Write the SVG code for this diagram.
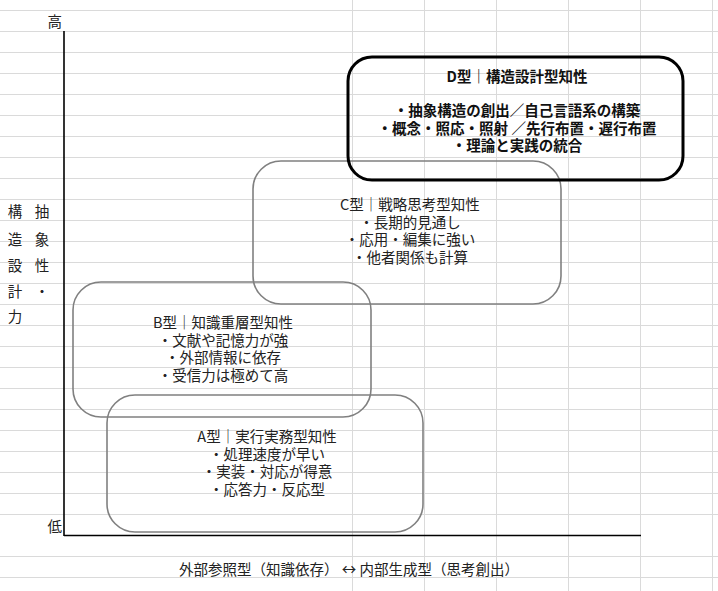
<svg xmlns="http://www.w3.org/2000/svg" width="718" height="591" viewBox="0 0 718 591">
<style>
.grid line{stroke:#dadada;stroke-width:1}
.axis{stroke:#000;stroke-width:1.6}
.box{fill:none;stroke:#808080;stroke-width:1.6}
.boxd{fill:none;stroke:#000;stroke-width:3}
text{font-family:"Noto Sans CJK JP","Noto Sans",sans-serif;fill:#222;font-size:14.5px}
.c{text-anchor:middle}
.b{font-weight:bold;fill:#111}
</style>
<rect width="718" height="591" fill="#fff"/>
<g class="grid" id="grid">
<line x1="0" y1="10.5" x2="718" y2="10.5"/>
<line x1="0" y1="31.5" x2="718" y2="31.5"/>
<line x1="0" y1="52.5" x2="718" y2="52.5"/>
<line x1="0" y1="73.5" x2="718" y2="73.5"/>
<line x1="0" y1="94.5" x2="718" y2="94.5"/>
<line x1="0" y1="115.5" x2="718" y2="115.5"/>
<line x1="0" y1="136.5" x2="718" y2="136.5"/>
<line x1="0" y1="157.5" x2="718" y2="157.5"/>
<line x1="0" y1="178.5" x2="718" y2="178.5"/>
<line x1="0" y1="199.5" x2="718" y2="199.5"/>
<line x1="0" y1="220.5" x2="718" y2="220.5"/>
<line x1="0" y1="241.5" x2="718" y2="241.5"/>
<line x1="0" y1="262.5" x2="718" y2="262.5"/>
<line x1="0" y1="283.5" x2="718" y2="283.5"/>
<line x1="0" y1="304.5" x2="718" y2="304.5"/>
<line x1="0" y1="325.5" x2="718" y2="325.5"/>
<line x1="0" y1="346.5" x2="718" y2="346.5"/>
<line x1="0" y1="367.5" x2="718" y2="367.5"/>
<line x1="0" y1="388.5" x2="718" y2="388.5"/>
<line x1="0" y1="409.5" x2="718" y2="409.5"/>
<line x1="0" y1="430.5" x2="718" y2="430.5"/>
<line x1="0" y1="451.5" x2="718" y2="451.5"/>
<line x1="0" y1="472.5" x2="718" y2="472.5"/>
<line x1="0" y1="493.5" x2="718" y2="493.5"/>
<line x1="0" y1="514.5" x2="718" y2="514.5"/>
<line x1="0" y1="556.5" x2="718" y2="556.5"/>
<line x1="0" y1="577.5" x2="718" y2="577.5"/>
<line x1="352.5" y1="0" x2="352.5" y2="591"/>
<line x1="424.5" y1="0" x2="424.5" y2="591"/>
<line x1="496.5" y1="0" x2="496.5" y2="591"/>
<line x1="568.5" y1="0" x2="568.5" y2="591"/>
<line x1="640.5" y1="0" x2="640.5" y2="591"/>
<line x1="712.5" y1="0" x2="712.5" y2="591"/>
</g>
<g id="axes">
<line class="axis" x1="64" y1="31" x2="64" y2="536"/>
<line class="axis" x1="64" y1="535.5" x2="641" y2="535.5"/>
<text x="62" y="27" text-anchor="end" font-size="13">高</text>
<text x="62" y="532" text-anchor="end" font-size="13">低</text>
<g class="c">
<text x="15" y="217">構</text>
<text x="15" y="245">造</text>
<text x="15" y="271">設</text>
<text x="15" y="297">計</text>
<text x="15" y="322">力</text>
<text x="42" y="217">抽</text>
<text x="42" y="245">象</text>
<text x="42" y="271">性</text>
<text x="42" y="297">・</text>
</g>
<text class="c" x="349" y="575">外部参照型（知識依存） ↔ 内部生成型（思考創出）</text>
</g>
<g id="nodeA">
<rect class="box" x="107" y="395" width="316" height="137" rx="28"/>
<text class="c" x="267" y="442">A型｜実行実務型知性</text>
<text class="c" x="267" y="459.5">・処理速度が早い</text>
<text class="c" x="267" y="477">・実装・対応が得意</text>
<text class="c" x="267" y="495">・応答力・反応型</text>
</g>
<g id="nodeB">
<rect class="box" x="73" y="282" width="298" height="135" rx="28"/>
<text class="c" x="223" y="328">B型｜知識重層型知性</text>
<text class="c" x="223" y="345.5">・文献や記憶力が強</text>
<text class="c" x="223" y="363">・外部情報に依存</text>
<text class="c" x="223" y="380.5">・受信力は極めて高</text>
</g>
<g id="nodeC">
<rect class="box" x="253" y="161" width="308" height="143" rx="28"/>
<text class="c" x="410" y="210">C型｜戦略思考型知性</text>
<text class="c" x="410" y="227.5">・長期的見通し</text>
<text class="c" x="410" y="245">・応用・編集に強い</text>
<text class="c" x="410" y="262.5">・他者関係も計算</text>
</g>
<g id="nodeD">
<rect class="boxd" x="348" y="57" width="335" height="123" rx="24"/>
<text class="c b" x="517" y="82">D型｜構造設計型知性</text>
<text class="c b" x="517" y="116">・抽象構造の創出／自己言語系の構築</text>
<text class="c b" x="517" y="133.5">・概念・照応・照射 ／先行布置・遅行布置</text>
<text class="c b" x="517" y="151">・理論と実践の統合</text>
</g>
<g id="connectors"></g>
</svg>
